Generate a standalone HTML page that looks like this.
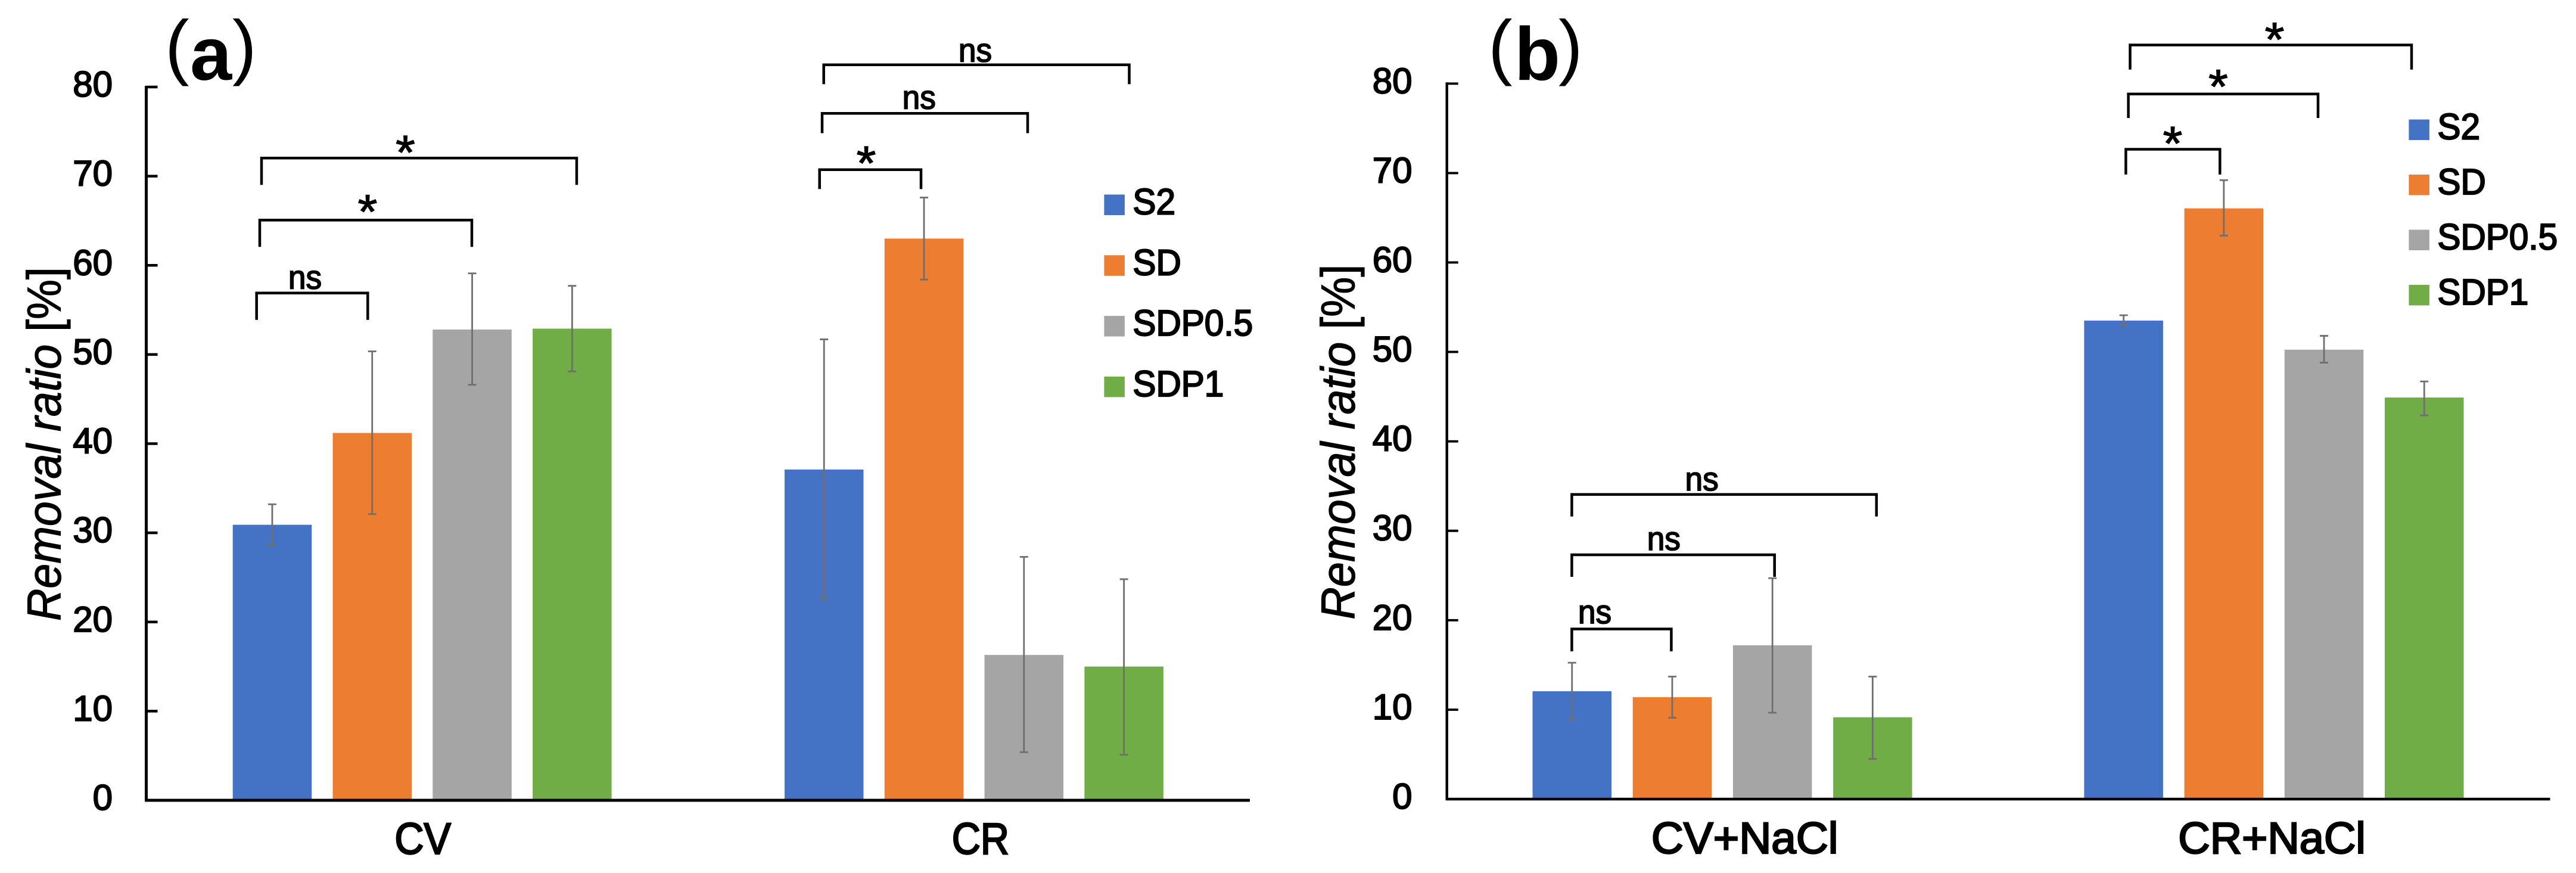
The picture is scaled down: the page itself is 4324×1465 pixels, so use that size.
<!DOCTYPE html>
<html lang="en">
<head>
<meta charset="utf-8">
<title>Removal ratio charts</title>
<style>
html,body{margin:0;padding:0;background:#fff;width:4324px;height:1465px;overflow:hidden}
svg{display:block;font-family:"Liberation Sans","Noto Sans CJK JP",sans-serif}
</style>
</head>
<body>
<svg id="chart" xmlns="http://www.w3.org/2000/svg" width="4324" height="1465" viewBox="0 0 4324 1465">
  <rect width="4324" height="1465" fill="#fff"/>
  <text fill="#000"><tspan x="277" y="119" font-size="122">(</tspan><tspan x="319" y="134" font-size="126" font-weight="bold">a</tspan><tspan x="390" y="119" font-size="122">)</tspan></text>
  <text fill="#000"><tspan x="2498" y="119" font-size="122">(</tspan><tspan x="2542" y="134" font-size="126" font-weight="bold">b</tspan><tspan x="2616" y="119" font-size="122">)</tspan></text>
</svg>
<script>
const tickValues = [0, 10, 20, 30, 40, 50, 60, 70, 80];
const seriesNames = ['S2', 'SD', 'SDP0.5', 'SDP1'];
const seriesColors = ['#4472C4', '#ED7D31', '#A5A5A5', '#70AD47'];

const categoriesA = ['CV', 'CR'];
const valuesA_S2 = [30.9, 37.1];
const valuesA_SD = [41.2, 63.0];
const valuesA_SDP05 = [52.8, 16.3];
const valuesA_SDP1 = [52.9, 15.0];
const errHighA_S2 = [33.2, 51.7];
const errHighA_SD = [50.35, 67.6];
const errHighA_SDP05 = [59.1, 27.3];
const errHighA_SDP1 = [57.7, 24.8];
const errLowA_S2 = [28.7, 22.6];
const errLowA_SD = [32.1, 58.4];
const errLowA_SDP05 = [46.6, 5.4];
const errLowA_SDP1 = [48.1, 5.1];

const categoriesB = ['CV+NaCl', 'CR+NaCl'];
const valuesB_S2 = [12.06, 53.5];
const valuesB_SD = [11.4, 66.05];
const valuesB_SDP05 = [17.2, 50.25];
const valuesB_SDP1 = [9.15, 44.9];
const errHighB_S2 = [15.25, 54.1];
const errHighB_SD = [13.7, 69.2];
const errHighB_SDP05 = [24.7, 51.8];
const errHighB_SDP1 = [13.7, 46.7];
const errLowB_S2 = [8.9, 53.0];
const errLowB_SD = [9.1, 63.0];
const errLowB_SDP05 = [9.66, 48.8];
const errLowB_SDP1 = [4.5, 42.9];

const svg = document.getElementById('chart');
const NS = 'http://www.w3.org/2000/svg';

function make(tag, attrs) {
  const el = document.createElementNS(NS, tag);
  for (const k in attrs) el.setAttribute(k, attrs[k]);
  svg.appendChild(el);
  return el;
}

function makeText(str, x, y, size, sx, anchor, strokeW) {
  const el = make('text', {
    transform: `translate(${x},${y}) scale(${sx},1)`,
    'font-size': size,
    'text-anchor': anchor,
    fill: '#000',
    stroke: '#000',
    'stroke-width': strokeW
  });
  el.textContent = str;
  return el;
}

function drawPanel(p) {
  const yScale = v => p.y0 - (v / 80) * (p.y0 - p.y80);
  const band = (p.right - p.left) / p.categories.length;

  p.values.forEach((vals, s) => {
    vals.forEach((v, c) => {
      const x = p.left + c * band + p.barStart + s * p.barPitch;
      const bar = make('rect', {
        x: x,
        y: yScale(v),
        width: p.barWidth,
        height: p.y0 - yScale(v),
        fill: seriesColors[s]
      });
      
      
    });
  });

  p.values.forEach((vals, s) => {
    vals.forEach((v, c) => {
      const cx = p.left + c * band + p.barStart + s * p.barPitch + p.barWidth / 2;
      const hi = yScale(p.errHigh[s][c]);
      const lo = yScale(p.errLow[s][c]);
      const d = `M${cx},${hi}V${lo}M${cx - 7},${hi}H${cx + 7}M${cx - 7},${lo}H${cx + 7}`;
      const err = make('path', { d: d, fill: 'none', stroke: '#6f6f6f', 'stroke-width': 2.8 });
      
      
    });
  });

  const yAxis = make('line', {
    x1: p.left, x2: p.left, y1: yScale(80) - 2, y2: p.y0 + 2, stroke: '#000', 'stroke-width': p.axisW
  });
  
  

  const xAxis = make('line', {
    x1: p.left - 2, x2: p.right, y1: p.y0, y2: p.y0, stroke: '#000', 'stroke-width': p.axisW
  });
  
  

  tickValues.forEach(t => {
    const tick = make('line', {
      x1: p.left, x2: p.left + 19, y1: yScale(t), y2: yScale(t), stroke: '#000', 'stroke-width': p.axisW - 0.5
    });
    
    
    const lab = makeText(String(t), p.tickRight, yScale(t) + 16, 60, 1, 'end', 2);
    
    
  });

  p.categories.forEach((c, i) => {
    const cx = p.left + (i + 0.5) * band + p.catNudge[i];
    const lab = makeText(c, cx, p.catBase, 74, p.catScale[i], 'middle', 2.6);
    
    
  });

  seriesNames.forEach((name, s) => {
    const top = p.legendTop + s * p.legendPitch;
    const sw = make('rect', { x: p.legendX, y: top, width: 34.5, height: 34.5, fill: seriesColors[s] });
    
    
    const lab = makeText(name, p.legendX + 48, top + 33, 61, 0.96, 'start', 2.2);
    
    
  });

  const title = make('text', {
    transform: `translate(${p.titleX},${p.titleY}) rotate(-90) scale(${p.titleScale},1)`,
    'font-size': 80,
    fill: '#000',
    stroke: '#000',
    'stroke-width': 1.2
  });
  
  
  const it = document.createElementNS(NS, 'tspan');
  it.setAttribute('font-style', 'italic');
  it.textContent = 'Removal ratio';
  title.appendChild(it);
  const un = document.createElementNS(NS, 'tspan');
  un.textContent = ' [%]';
  title.appendChild(un);
}

function bracket(name, x1, x2, top, bottom, mark, markX, markY) {
  const path = make('path', {
    d: `M${x1},${bottom}V${top}H${x2}V${bottom}`,
    fill: 'none',
    stroke: '#000',
    'stroke-width': 4.5
  });
  
  
  const isStar = mark === '*';
  const t = makeText(mark, markX, isStar ? markY + 46 : markY, isStar ? 80 : 56, isStar ? 1.05 : 0.95, 'middle', isStar ? 1.4 : 1.8);
  
  
}

drawPanel({
  id: 'a',
  categories: categoriesA,
  values: [valuesA_S2, valuesA_SD, valuesA_SDP05, valuesA_SDP1],
  errHigh: [errHighA_S2, errHighA_SD, errHighA_SDP05, errHighA_SDP1],
  errLow: [errLowA_S2, errLowA_SD, errLowA_SDP05, errLowA_SDP1],
  left: 245.5, right: 2098, y0: 1343, y80: 146, axisW: 5,
  barStart: 145.2, barPitch: 167.8, barWidth: 132.5,
  tickRight: 189, catBase: 1433, catNudge: [1, 11], catScale: [0.92, 0.9],
  legendX: 1853.4, legendTop: 326.5, legendPitch: 101.8,
  titleX: 101.7, titleY: 1042, titleScale: 0.941
});

drawPanel({
  id: 'b',
  categories: categoriesB,
  values: [valuesB_S2, valuesB_SD, valuesB_SDP05, valuesB_SDP1],
  errHigh: [errHighB_S2, errHighB_SD, errHighB_SDP05, errHighB_SDP1],
  errLow: [errLowB_S2, errLowB_SD, errLowB_SDP05, errLowB_SDP1],
  left: 2428.7, right: 4280.5, y0: 1341, y80: 140.3, axisW: 4.4,
  barStart: 143.8, barPitch: 168.2, barWidth: 132.5,
  tickRight: 2370.5, catBase: 1432, catNudge: [37, -4], catScale: [1.01, 1.0],
  legendX: 4043.4, legendTop: 200.5, legendPitch: 92.5,
  titleX: 2273.7, titleY: 1039.6, titleScale: 0.944
});

bracket('cv-s2-sd', 430.7, 617.3, 491.8, 536.7, 'ns', 512, 484.7);
bracket('cv-s2-sdp05', 436, 792, 369.4, 414.3, '*', 617, 336.7);
bracket('cv-s2-sdp1', 439, 968, 265.3, 310.2, '*', 680.5, 237);
bracket('cr-s2-sd', 1375.7, 1546, 284.7, 317.3, '*', 1454, 255);
bracket('cr-s2-sdp05', 1380, 1725, 190.3, 223.5, 'ns', 1542.7, 182.7);
bracket('cr-s2-sdp1', 1382.7, 1895.5, 108.7, 141.3, 'ns', 1637, 103.6);
bracket('cvnacl-s2-sd', 2638.4, 2805.4, 1055.5, 1093, 'ns', 2677, 1046);
bracket('cvnacl-s2-sdp05', 2638.4, 2978.7, 931, 968, 'ns', 2792.8, 923);
bracket('cvnacl-s2-sdp1', 2638.4, 3149.8, 829.8, 866.7, 'ns', 2856.6, 823);
bracket('crnacl-s2-sd', 3568.4, 3726.3, 250.5, 292.9, '*', 3647, 222);
bracket('crnacl-s2-sdp05', 3572.6, 3891, 157.7, 198, '*', 3723.5, 126.5);
bracket('crnacl-s2-sdp1', 3575.5, 4048, 75.5, 116.8, '*', 3818, 47.5);
</script>
</body>
</html>
